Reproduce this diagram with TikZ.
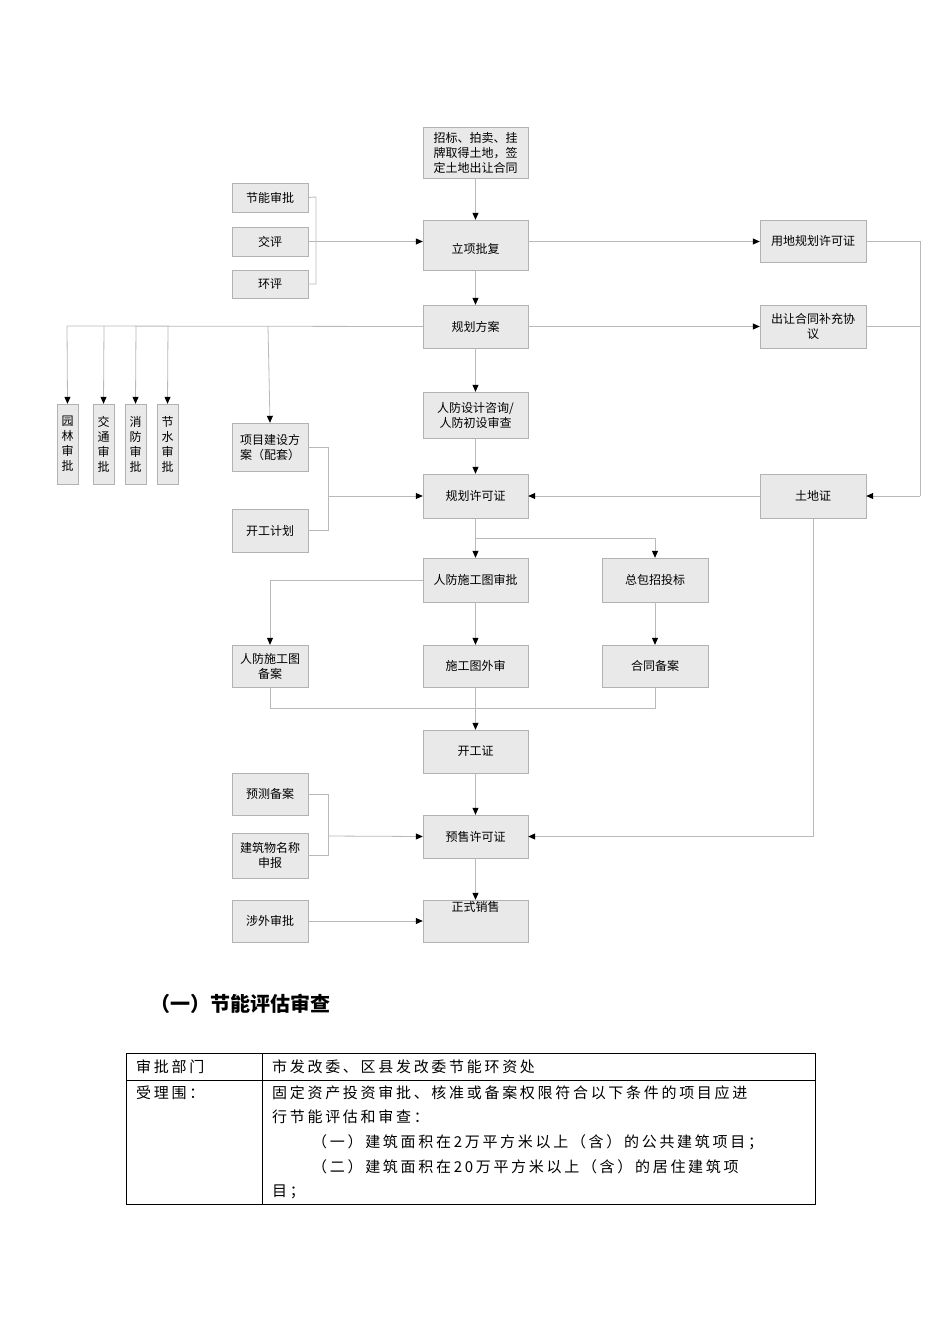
\documentclass[tikz,border=0pt]{standalone}
\usepackage{fontspec}
\setmainfont{Liberation Serif}
\newfontfamily\cjk{Noto Sans CJK SC}
\newfontfamily\cjkw[LetterSpace=18]{Noto Sans CJK SC}
\usetikzlibrary{arrows.meta,shadows}
\XeTeXlinebreaklocale "zh"
\tikzset{
 bx/.style={draw=gray!60, fill=gray!17, inner sep=0pt, align=center, font=\cjk\fontsize{12}{15}\selectfont, drop shadow={shadow xshift=1pt, shadow yshift=-1pt, fill=gray!50, opacity=.8}},
 ln/.style={draw=gray!55, line width=0.8pt},
 arr/.style={ln, -{Triangle[length=7pt,width=6pt,color=black]}},
 tx/.style={font=\cjkw\fontsize{15}{18}\selectfont, anchor=west, inner sep=0pt}
}
\newcommand{\bxx}[6]{\node[bx, minimum width={#4-#2}, minimum height={#5-#3}] (#1) at ({(#2+#4)/2},{(#3+#5)/2}) {#6};}
\newcommand{\jline}[2]{{\XeTeXlinebreakskip=0pt plus 1fil\makebox[#1][s]{#2}}}
\begin{document}
\begin{tikzpicture}[x=1pt,y=-1pt]
\useasboundingbox (0,0) rectangle (950,1344);
\fill[white] (0,0) rectangle (950,1344);
\bxx{top}{423}{127}{528}{178}{招标、拍卖、挂\\牌取得土地，签\\定土地出让合同}
\bxx{jn}{232}{183}{308}{212}{节能审批}
\bxx{jp}{232}{227}{308}{256}{交评}
\bxx{hp}{232}{270}{308}{298}{环评}
\bxx{lx}{423}{220}{528}{270}{\\[2pt]立项批复}
\bxx{yd}{760}{220}{866}{262}{用地规划许可证}
\bxx{gf}{423}{305}{528}{348}{规划方案}
\bxx{cr}{760}{305}{866}{348}{出让合同补充协\\议}
\bxx{yl}{57}{404}{78}{484}{园\\林\\审\\批}
\bxx{jt}{93}{404}{114}{484}{交\\通\\审\\批}
\bxx{xf}{125}{404}{146}{484}{消\\防\\审\\批}
\bxx{js}{157}{404}{178}{484}{节\\水\\审\\批}
\bxx{xm}{232}{423}{308}{471}{项目建设方\\案（配套）}
\bxx{rf}{423}{392}{528}{438}{人防设计咨询/\\人防初设审查}
\bxx{gx}{423}{474}{528}{518}{规划许可证}
\bxx{td}{760}{474}{866}{518}{土地证}
\bxx{kj}{232}{509}{308}{552}{开工计划}
\bxx{rs}{423}{558}{528}{602}{人防施工图审批}
\bxx{zb}{602}{558}{708}{602}{总包招投标}
\bxx{rb}{232}{645}{308}{687}{人防施工图\\备案}
\bxx{sw}{423}{645}{528}{687}{施工图外审}
\bxx{ht}{602}{645}{708}{687}{合同备案}
\bxx{kg}{423}{730}{528}{773}{开工证}
\bxx{yc}{232}{773}{308}{815}{预测备案}
\bxx{jz}{232}{833}{308}{878}{建筑物名称\\申报}
\bxx{ys}{423}{815}{528}{858}{预售许可证}
\bxx{sx}{232}{900}{308}{942}{涉外审批}
\bxx{zs}{423}{900}{528}{942}{正式销售\\[14pt]}
% connectors
\draw[arr] (top) -- (lx);
\draw[ln] (jn.east) -- (316,197) |- (hp.east);
\draw[arr] (jp.east) -- (lx.west |- jp.east);
\draw[arr] (lx.east |- jp.east) -- (yd.west |- jp.east);
\draw[arr] (lx) -- (gf);
\draw[arr] (gf) -- (cr);
\draw[ln] (gf.west) -- (67,326);
\draw[arr] (67,326) -- (yl.north);
\draw[arr] (104,326) -- (jt.north);
\draw[arr] (136,326) -- (xf.north);
\draw[arr] (168,326) -- (js.north);
\draw[arr] (268,326) -- (xm.north);
\draw[arr] (gf) -- (rf);
\draw[arr] (rf) -- (gx);
\coordinate (rr) at (920,496);
\draw[ln] (yd.east) -| (rr);
\draw[ln] (cr.east) -- (cr.east -| rr);
\draw[arr] (rr) -- (td.east);
\draw[arr] (td) -- (gx);
\draw[ln] (xm.east) -- (328,447) |- (kj.east);
\draw[arr] (328,496) -- (gx.west);
\draw[arr] (gx) -- (rs);
\draw[arr] (476,538) -| (zb.north);
\draw[arr] (rs.west) -| (rb.north);
\draw[arr] (rs) -- (sw);
\draw[arr] (zb) -- (ht);
\draw[ln] (rb.south) |- (ht.south |- 0,708) -- (ht.south);
\draw[arr] (sw) -- (kg);
\draw[arr] (kg) -- (ys);
\draw[ln] (yc.east) -- (328,794) |- (jz.east);
\draw[arr] (328,836) -- (ys.west);
\draw[arr] (td.south) |- (ys.east);
\draw[arr] (ys) -- (zs);
\draw[arr] (sx) -- (zs);
% heading and table
\node[font=\cjk\bfseries\fontsize{20}{24}\selectfont, anchor=west, inner sep=0pt] (hd) at (150,1004) {（一）节能评估审查};
\draw[line width=0.7pt] (126,1053) rectangle (815,1204);
\draw[line width=0.7pt] (126,1080) -- (815,1080) (262,1053) -- (262,1204);
\node[tx] (c1) at (136,1067) {审批部门};
\node[tx] (c2) at (272,1067) {市发改委、区县发改委节能环资处};
\node[tx] (c3) at (136,1093) {受理围：};
\node[tx] (l1) at (272,1093) {\jline{533pt}{固定资产投资审批、核准或备案权限符合以下条件的项目应进}};
\node[tx] (l2) at (272,1117) {行节能评估和审查：};
\node[tx] (l3) at (312,1142) {\jline{493pt}{（一）建筑面积在2万平方米以上（含）的公共建筑项目；}};
\node[tx] (l4) at (312,1167) {\jline{493pt}{（二）建筑面积在20万平方米以上（含）的居住建筑项}};
\node[tx] (l5) at (272,1192) {目；};
\end{tikzpicture}
\end{document}
